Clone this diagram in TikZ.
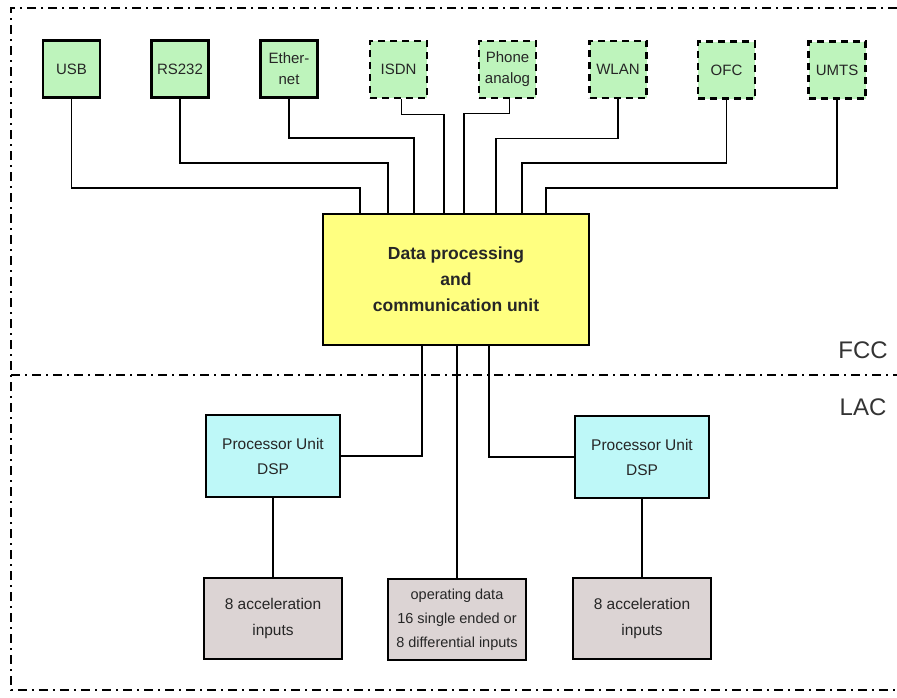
\documentclass[tikz,border=0pt]{standalone}
\usepackage{fontspec}
\setmainfont{Liberation Sans}
\usepackage{tikz}

\definecolor{ifgreen}{RGB}{190,244,188}
\definecolor{dpyellow}{RGB}{255,255,128}
\definecolor{pucyan}{RGB}{190,248,248}
\definecolor{accgray}{RGB}{220,212,212}

\begin{document}
\begin{tikzpicture}[x=1pt, y=-1pt, every node/.style={rectangle, draw, align=center, inner sep=0pt, text=black!85, font=\fontsize{15}{21}\selectfont},
	iface/.style={fill=ifgreen, line width=2.6pt, minimum width=57pt, minimum height=57pt},
	optface/.style={iface, dash pattern=on 7pt off 5pt},
	unitbox/.style={fill=pucyan, line width=2pt, minimum width=134pt, minimum height=82pt, font=\fontsize{15.5}{25}\selectfont},
	inbox/.style={fill=accgray, line width=2.6pt, minimum width=138pt, minimum height=81pt, font=\fontsize{15.5}{26}\selectfont},
	zone/.style={draw=none, text=black!80, font=\fontsize{24}{24}\selectfont},
	wire/.style={line width=1.6pt},
	frame/.style={line width=2pt, dash pattern=on 9pt off 5pt on 2pt off 5pt}]
				\useasboundingbox (0,0) rectangle (897,697);
				% frame and the FCC / LAC split
				\draw[frame] (897,8) -- (11,8) -- (11,690) -- (897,690);
				\draw[frame] (11,375) -- (897,375);
				\node[zone](fcc) at (863,350) {FCC};
				\node[zone](lac) at (863,407) {LAC};
				% interfaces
				\node[iface](usb) at (71.5,69) {USB};
				\node[iface](rs) at (180,69) {RS232};
				\node[iface](eth) at (289,69) {Ether-\\net};
				\node[optface](isdn) at (398.5,69.5) {ISDN};
				\node[optface](phone) at (507.5,69.5) {Phone\\analog};
				\node[optface](wlan) at (618,69.5) {WLAN};
				\node[optface](ofc) at (726.5,70) {OFC};
				\node[optface](umts) at (837,70) {UMTS};
				% units
				\node[fill=dpyellow, line width=2pt, minimum width=266pt, minimum height=131pt, font=\bfseries\fontsize{17.5}{26}\selectfont](dpu) at (456,279.5) {Data processing\\and\\communication unit};
				\node[unitbox](lpu) at (273,456) {Processor Unit\\DSP};
				\node[unitbox](rpu) at (642,457) {Processor Unit\\DSP};
				\node[inbox](lacc) at (273,618.5) {8 acceleration\\inputs};
				\node[inbox, font=\fontsize{14.5}{24}\selectfont](ops) at (457,619.5) {operating data\\16 single ended or\\8 differential inputs};
				\node[inbox](racc) at (642,618.5) {8 acceleration\\inputs};
				% connectors
				\draw[wire](usb.south) -- ++(0,89) -| ([xshift=-96pt]dpu.north);
				\draw[wire](rs.south) -- ++(0,64) -| ([xshift=-68pt]dpu.north);
				\draw[wire](eth.south) -- ++(0,39) -| ([xshift=-42pt]dpu.north);
				\draw[wire]([xshift=3pt]isdn.south) -- ++(0,15) -| ([xshift=-12pt]dpu.north);
				\draw[wire]([xshift=2pt]phone.south) -- ++(0,14) -| ([xshift=8pt]dpu.north);
				\draw[wire](wlan.south) -- ++(0,39) -| ([xshift=40pt]dpu.north);
				\draw[wire](ofc.south) -- ++(0,63) -| ([xshift=66pt]dpu.north);
				\draw[wire](umts.south) -- ++(0,88) -| ([xshift=90pt]dpu.north);
				\draw[wire]([xshift=-34pt]dpu.south) |- (lpu.east);
				\draw[wire]([xshift=33pt]dpu.south) |- (rpu.west);
				\draw[wire](dpu.south -| ops.north) -- (ops.north);
				\draw[wire](lpu) -- (lacc);
				\draw[wire](rpu) -- (racc);
		\end{tikzpicture}
\end{document}
